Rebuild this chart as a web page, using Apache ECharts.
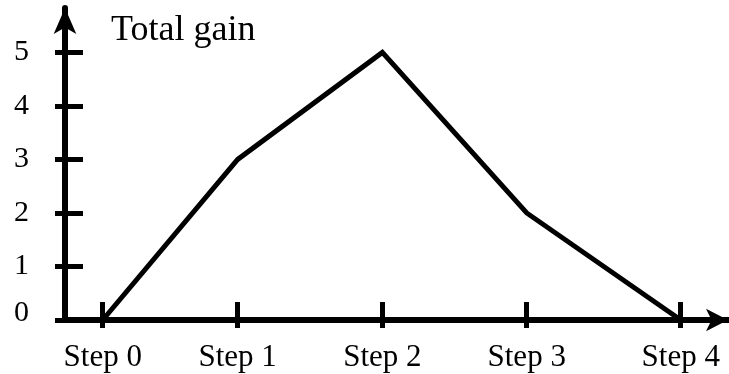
<!DOCTYPE html>
<html>
<head>
<meta charset="utf-8">
<script src="https://cdn.jsdelivr.net/npm/echarts@6/dist/echarts.min.js"></script>
<style>
html, body { margin: 0; padding: 0; background: #fff; }
#main { width: 729px; height: 374px; }
</style>
</head>
<body>
<div id="main"></div>
<script>
// 数据
var categories = ['Step 0', 'Step 1', 'Step 2', 'Step 3', 'Step 4'];
var stepPositions = [0, 0.934, 1.935, 2.934, 4];
var gains = [0, 3, 5, 2, 0];
var yTicks = [0, 1, 2, 3, 4, 5];

var FONT = 'Liberation Serif';

var chart = echarts.init(document.getElementById('main'));

var points = [];
for (var i = 0; i < gains.length; i++) {
    points.push([stepPositions[i], gains[i]]);
}

var option = {
    animation: false,
    backgroundColor: '#fff',
    title: {
        text: 'Total gain',
        left: 111,
        top: 13,
        padding: 0,
        textStyle: { fontFamily: FONT, fontSize: 36, fontWeight: 'normal', color: '#000' }
    },
    grid: { left: 65, right: 1, top: 8, bottom: 54, containLabel: false },
    xAxis: [{
        type: 'value',
        min: -0.261,
        max: 4.327,
        position: 'bottom',
        splitLine: { show: false },
        axisLine: {
            show: true,
            onZero: false,
            symbol: ['none', 'arrow'],
            symbolSize: [17, 22],
            lineStyle: { color: '#000', width: 6 }
        },
        axisTick: {
            show: true, inside: false, length: 8,
            customValues: stepPositions,
            lineStyle: { color: '#000', width: 5 }
        },
        axisLabel: {
            show: true, margin: 22,
            customValues: stepPositions,
            fontFamily: FONT, fontSize: 31, color: '#000',
            formatter: function (v) {
                var idx = stepPositions.indexOf(v);
                return idx >= 0 ? categories[idx] : '';
            }
        }
    }, {
        // 上方刻度 (内侧部分)
        type: 'value',
        min: -0.261,
        max: 4.327,
        position: 'top',
        offset: -312,
        splitLine: { show: false },
        axisLine: { show: false },
        axisTick: {
            show: true, inside: false, length: 18,
            customValues: stepPositions,
            lineStyle: { color: '#000', width: 5 }
        },
        axisLabel: { show: false }
    }],
    yAxis: [{
        type: 'value',
        min: 0,
        max: 5.83,
        position: 'left',
        splitLine: { show: false },
        axisLine: {
            show: true,
            onZero: false,
            symbol: ['none', 'arrow'],
            symbolSize: [17, 26],
            lineStyle: { color: '#000', width: 6 }
        },
        axisTick: {
            show: true, inside: false, length: 10,
            customValues: yTicks,
            lineStyle: { color: '#000', width: 5 }
        },
        axisLabel: {
            show: true, margin: 36,
            customValues: yTicks,
            fontFamily: FONT, fontSize: 30, color: '#000',
            formatter: function (v) {
                return v === 0 ? '{z|0}' : String(v);
            },
            rich: {
                z: { fontFamily: FONT, fontSize: 30, color: '#000', padding: [0, 0, 14, 0] }
            }
        }
    }, {
        // 右侧刻度 (内侧部分)
        type: 'value',
        min: 0,
        max: 5.83,
        position: 'right',
        offset: -663,
        splitLine: { show: false },
        axisLine: { show: false, onZero: false },
        axisTick: {
            show: true, inside: false, length: 18,
            customValues: yTicks,
            lineStyle: { color: '#000', width: 5 }
        },
        axisLabel: { show: false }
    }],
    series: [{
        type: 'line',
        xAxisIndex: 0,
        yAxisIndex: 0,
        data: points,
        symbol: 'none',
        lineStyle: { color: '#000', width: 5, join: 'miter' },
        z: 5
    }]
};

chart.setOption(option);
</script>
</body>
</html>
